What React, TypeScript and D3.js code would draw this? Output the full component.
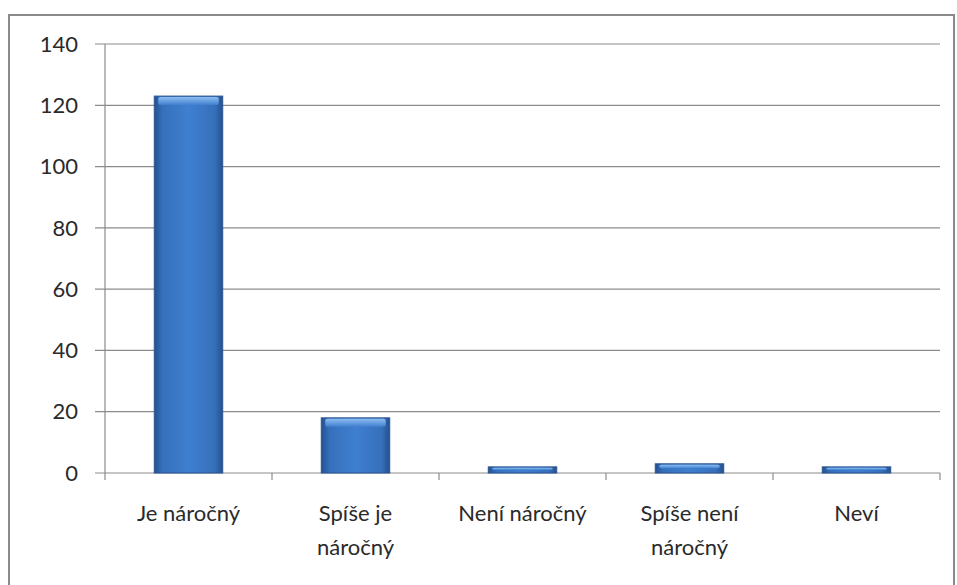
import { useEffect, useRef } from 'react';
import * as d3 from 'd3';

const categories = ['Je náročný', 'Spíše je náročný', 'Není náročný', 'Spíše není náročný', 'Neví'];
const labelLines = [['Je náročný'], ['Spíše je', 'náročný'], ['Není náročný'], ['Spíše není', 'náročný'], ['Neví']];
const values = [123, 18, 2, 3, 2];
const yTicks = [0, 20, 40, 60, 80, 100, 120, 140];

const W = 957;
const H = 585;

export default function App() {
    const svgRef = useRef<SVGSVGElement>(null);

    useEffect(() => {
        if (!svgRef.current) return;
        const svg = d3.select(svgRef.current);
        svg.selectAll('*').remove();

        const margin = { left: 105, right: 17, top: 44, bottom: 112 };
        const x = d3.scaleBand<string>()
            .domain(categories)
            .range([margin.left, W - margin.right])
            .paddingInner(0.59)
            .paddingOuter(0.295);
        const y = d3.scaleLinear().domain([0, 140]).range([H - margin.bottom, margin.top]);

        // bar gradients
        const defs = svg.append('defs');
        const grad = defs.append('linearGradient').attr('id', 'barGrad').attr('x1', 0).attr('x2', 1).attr('y1', 0).attr('y2', 0);
        grad.append('stop').attr('offset', '0%').attr('stop-color', '#24518f');
        grad.append('stop').attr('offset', '12%').attr('stop-color', '#3670bb');
        grad.append('stop').attr('offset', '50%').attr('stop-color', '#3f7fd0');
        grad.append('stop').attr('offset', '88%').attr('stop-color', '#3670bb');
        grad.append('stop').attr('offset', '100%').attr('stop-color', '#24518f');
        const topGrad = defs.append('linearGradient').attr('id', 'topGrad').attr('x1', 0).attr('x2', 0).attr('y1', 0).attr('y2', 1);
        topGrad.append('stop').attr('offset', '0%').attr('stop-color', '#8cbcf0');
        topGrad.append('stop').attr('offset', '100%').attr('stop-color', '#3f7fd0');

        // outer border
        svg.append('rect')
            .attr('x', 9).attr('y', 15)
            .attr('width', W - 12).attr('height', H)
            .attr('fill', 'white')
            .attr('stroke', '#8a8a8a')
            .attr('stroke-width', 2);

        const x0 = margin.left;
        const x1 = W - margin.right;
        const font = 'Lato, "Open Sans", sans-serif';

        // gridlines + y ticks
        const gy = svg.append('g');
        gy.selectAll('line.grid')
            .data(yTicks)
            .enter()
            .append('line')
            .attr('x1', x0 - 10)
            .attr('x2', x1)
            .attr('y1', d => y(d))
            .attr('y2', d => y(d))
            .attr('stroke', '#8c8c8c')
            .attr('stroke-width', 1.2);
        gy.selectAll('text')
            .data(yTicks)
            .enter()
            .append('text')
            .attr('x', x0 - 27)
            .attr('y', d => y(d))
            .attr('dy', '0.35em')
            .attr('text-anchor', 'end')
            .attr('font-family', font)
            .attr('font-size', 22)
            .attr('fill', '#2a2a2a')
            .text(d => d);

        // y axis line
        svg.append('line')
            .attr('x1', x0).attr('x2', x0)
            .attr('y1', y(140)).attr('y2', y(0))
            .attr('stroke', '#8c8c8c').attr('stroke-width', 1.2);

        // x ticks at band boundaries
        const bounds = categories.map(c => (x(c) as number) - x.step() * x.paddingInner() / 2);
        bounds[0] = x0;
        bounds.push(x1);
        svg.selectAll('line.xt')
            .data(bounds)
            .enter()
            .append('line')
            .attr('x1', d => d).attr('x2', d => d)
            .attr('y1', y(0)).attr('y2', y(0) + 7)
            .attr('stroke', '#8c8c8c').attr('stroke-width', 1.2);

        // bars
        const bars = svg.append('g').selectAll('g')
            .data(values)
            .enter()
            .append('g');
        bars.append('rect')
            .attr('x', (_, i) => x(categories[i]) as number)
            .attr('y', d => y(d))
            .attr('width', x.bandwidth())
            .attr('height', d => y(0) - y(d))
            .attr('fill', 'url(#barGrad)')
            .attr('stroke', '#2a5590')
            .attr('stroke-width', 1);
        bars.append('rect')
            .attr('x', (_, i) => (x(categories[i]) as number) + 4)
            .attr('y', d => y(d) + 1)
            .attr('width', x.bandwidth() - 8)
            .attr('height', d => Math.min(8, Math.max(0, (y(0) - y(d)) / 2 - 1)))
            .attr('rx', 2)
            .attr('fill', 'url(#topGrad)');

        // x labels
        const xl = svg.append('g').selectAll('text')
            .data(labelLines)
            .enter()
            .append('text')
            .attr('x', (_, i) => (x(categories[i]) as number) + x.bandwidth() / 2)
            .attr('y', y(0) + 48)
            .attr('text-anchor', 'middle')
            .attr('font-family', font)
            .attr('font-size', 22)
            .attr('fill', '#2a2a2a');
        xl.selectAll('tspan')
            .data(d => d)
            .enter()
            .append('tspan')
            .attr('x', function () { return (this.parentNode as SVGTextElement).getAttribute('x'); })
            .attr('dy', (_, j) => (j === 0 ? 0 : 34))
            .text(d => d);
    }, []);

    return (
        <div style={{ position: 'fixed', left: 0, top: 0, width: W, height: H, background: 'white' }}>
            <svg ref={svgRef} width={W} height={H} style={{ display: 'block' }} />
        </div>
    );
}
